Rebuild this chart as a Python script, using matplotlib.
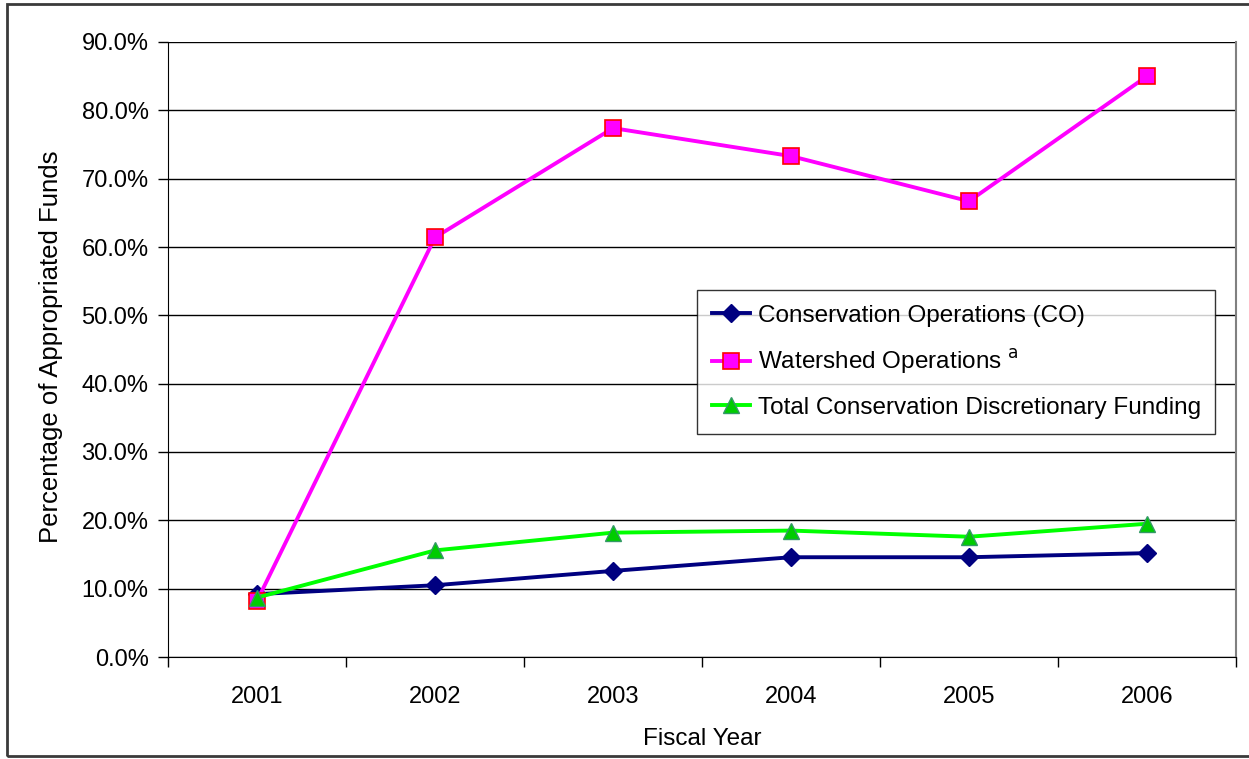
#importing the required libraries
from matplotlib import pyplot as plt
from matplotlib.patches import Rectangle
from matplotlib.ticker import FixedLocator, PercentFormatter

plt.rcParams['font.family'] = ['Liberation Sans', 'DejaVu Sans']

# data (percent of appropriated funds)
years = ['2001', '2002', '2003', '2004', '2005', '2006']
co_values = [9.2, 10.5, 12.6, 14.6, 14.6, 15.2]
watershed_values = [8.2, 61.4, 77.4, 73.3, 66.7, 85.0]
total_values = [8.7, 15.6, 18.2, 18.5, 17.6, 19.5]

fig = plt.figure(figsize=(12.49, 7.59), dpi=100)
ax = fig.add_axes([168 / 1249, 1 - 657 / 759, (1236 - 168) / 1249, (657 - 42) / 759])

# outer chart border (right edge runs off the picture)
fig.patches.append(Rectangle((7 / 1249, 3 / 759), 1.2, 752 / 759, transform=fig.transFigure,
                             fill=False, edgecolor='#3a3a3a', lw=2, clip_on=False))

x = range(len(years))
ax.plot(x, co_values, color='#000080', lw=2.8, marker='D', markersize=9,
        markerfacecolor='#000080', markeredgecolor='#000080', label='Conservation Operations (CO)', zorder=3)
ax.plot(x, watershed_values, color='#FF00FF', lw=2.8, marker='s', markersize=11,
        markerfacecolor='#FF00FF', markeredgecolor='#FF0000', markeredgewidth=1.2,
        label='Watershed Operations $^{\\mathrm{a}}$', zorder=4)
ax.plot(x, total_values, color='#00FF00', lw=2.8, marker='^', markersize=12,
        markerfacecolor='#00CC00', markeredgecolor='#339966', markeredgewidth=1,
        label='Total Conservation Discretionary Funding', zorder=5)

ax.set_xlim(-0.5, 5.5)
ax.set_ylim(0, 90)
ax.set_yticks(range(0, 91, 10))
ax.yaxis.set_major_formatter(PercentFormatter(decimals=1))
ax.grid(axis='y', color='black', lw=1)
ax.set_axisbelow(True)

ax.set_xticks(list(x))
ax.set_xticklabels(years)
ax.xaxis.set_minor_locator(FixedLocator([i - 0.5 for i in range(7)]))
ax.tick_params(axis='x', which='major', length=0, pad=21, labelsize=17)
ax.tick_params(axis='x', which='minor', length=7, width=1, direction='out')
ax.tick_params(axis='y', length=7, width=1, direction='out', pad=7, labelsize=17)

ax.spines['top'].set_visible(False)
ax.spines['right'].set_color('#808080')
ax.spines['right'].set_linewidth(1.5)

ax.set_xlabel('Fiscal Year', fontsize=17.5)
ax.set_ylabel('Percentage of Appropriated Funds', fontsize=18.5)
ax.xaxis.set_label_coords(0.5, -0.116)
ax.yaxis.set_label_coords(-0.098, 0.505)

leg = ax.legend(loc='upper left', bbox_to_anchor=((697 - 168) / 1068, (657 - 290) / 615),
                borderaxespad=0, fontsize=17.5, frameon=True, fancybox=False, edgecolor='black',
                handlelength=1.6, handletextpad=0.3, borderpad=0.6, labelspacing=0.85)
leg.get_frame().set_linewidth(1)

fig.savefig('out.png', dpi=100)
